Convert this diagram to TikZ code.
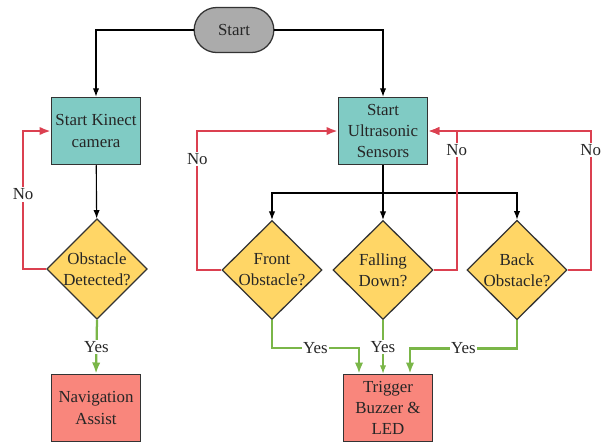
\documentclass[tikz,border=0pt]{standalone}
\usepackage{fontspec}
\setmainfont{Liberation Serif}
\usetikzlibrary{shapes.geometric,shapes.misc,arrows.meta}
\definecolor{boxteal}{RGB}{128,203,196}
\definecolor{decyellow}{RGB}{255,214,102}
\definecolor{endred}{RGB}{249,134,124}
\definecolor{noline}{RGB}{219,64,80}
\definecolor{yesline}{RGB}{122,182,72}
\definecolor{edge}{RGB}{51,51,51}
\begin{document}
\begin{tikzpicture}[x=0.025cm,y=-0.025cm,
  font=\fontsize{12}{15}\selectfont,
  every node/.style={align=center,text=black!85},
  startbox/.style={rounded rectangle,draw=edge,fill=black!33,line width=0.9pt,minimum width=2.225cm,minimum height=1.125cm},
  procbox/.style={rectangle,draw=edge,fill=boxteal,line width=0.9pt,minimum width=2.225cm,minimum height=1.68cm,inner sep=1pt},
  endbox/.style={rectangle,draw=edge,fill=endred,line width=0.9pt,minimum width=2.225cm,minimum height=1.68cm,inner sep=1pt},
  decbox/.style={diamond,draw=edge,fill=decyellow,line width=0.9pt,minimum width=2.5cm,minimum height=2.475cm,inner sep=0pt},
  flow/.style={draw=black,line width=0.8pt,-{Latex[length=6pt,width=4.5pt]}},
  noflow/.style={draw=noline,line width=1.6pt,-{Latex[length=8pt,width=6pt]}},
  yesflow/.style={draw=yesline,line width=1.6pt,-{Latex[length=8pt,width=6pt]}},
  lbl/.style={fill=white,inner sep=1pt}]
\useasboundingbox (0,0) rectangle (602,443);
% nodes
\node[startbox] (start) at (234,30) {Start};
\node[procbox] (kinect) at (96,131) {Start Kinect\\camera};
\node[procbox] (ultra) at (383,131) {Start\\Ultrasonic\\Sensors};
\node[decbox] (detect) at (97,269) {Obstacle\\Detected?};
\node[decbox] (front) at (272,270) {Front\\Obstacle?};
\node[decbox] (fall) at (383,270) {Falling\\Down?};
\node[decbox] (back) at (517,270) {Back\\Obstacle?};
\node[endbox] (nav) at (96,408) {Navigation\\Assist};
\node[endbox] (trig) at (388,408) {Trigger\\Buzzer \&\\LED};
\coordinate (split) at (383,193);
% black arrows
\draw[flow] (start.west) -| (kinect.north);
\draw[flow] (start.east) -| (ultra.north);
\draw[flow] (kinect) -- (detect);
\draw[line width=0.8pt] (ultra.south) -- (split);
\draw[flow] (split) -| (front.north);
\draw[flow] (split) -- (fall.north);
\draw[flow] (split) -| (back.north);
% no loops
\draw[noflow] (detect.west) -- ++(-23,0) |- (kinect.west) node[lbl,pos=0.27] {No};
\draw[noflow] (front.west) -- ++(-24,0) |- (ultra.west) node[lbl,pos=0.4] {No};
\draw[noflow] (back.east) -- ++(23,0) |- (ultra.east) node[lbl,pos=0.43] {No};
\draw[noflow] (fall.east) -- ++(23,0) |- (ultra.east) node[lbl,pos=0.43] {No};
% yes arrows
\draw[yesflow] (detect.south) -- (nav.north) node[lbl,midway] {Yes};
\draw[yesflow] (front.south) -- ++(0,28) -| ([xshift=-0.725cm]trig.north) node[lbl,pos=0.25] {Yes};
\draw[yesflow,line width=0.8pt,-{Latex[length=6pt,width=4.5pt]}] (fall.south) -- (fall.south |- trig.north) node[lbl,midway] {Yes};
\draw[yesflow] (back.south) -- ++(0,28) -| ([xshift=0.55cm]trig.north) node[lbl,pos=0.25] {Yes};
\end{tikzpicture}
\end{document}
